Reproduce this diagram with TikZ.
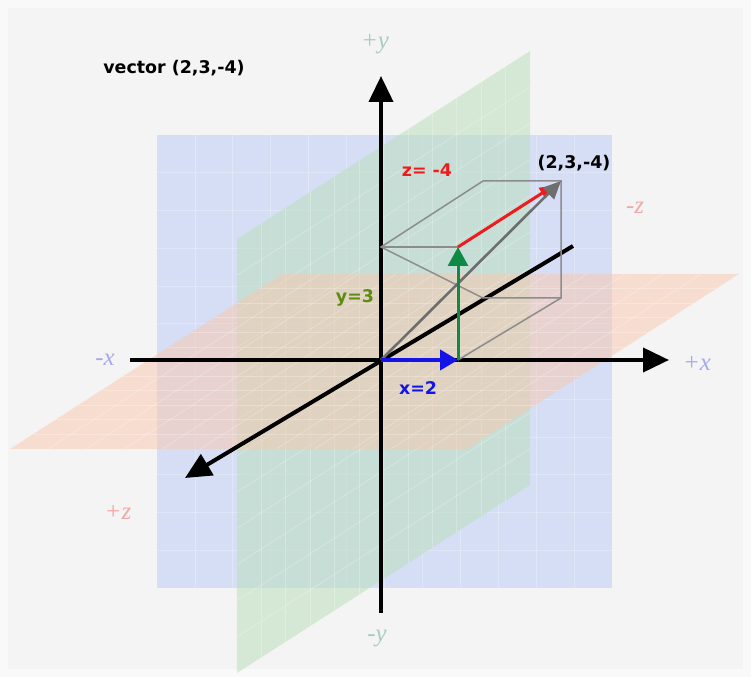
\documentclass[tikz,border=0pt]{standalone}
\usepackage{fontspec}
\usepackage{xcolor}
\usetikzlibrary{arrows.meta,calc}
\newfontfamily\tagfont{DejaVu Sans}
\newfontfamily\axisfont{Liberation Serif}
\definecolor{paper}{HTML}{F4F4F4}
\definecolor{xyplane}{HTML}{D5DEF5}
\definecolor{yzplane}{HTML}{B8DEB8}
\definecolor{xzplane}{HTML}{FAC8AC}
\definecolor{xaxcol}{HTML}{A8A8F0}
\definecolor{yaxcol}{HTML}{A6CCC4}
\definecolor{zaxcol}{HTML}{F2A8A8}
\definecolor{boxline}{HTML}{8C8C8C}
\definecolor{xvec}{HTML}{1414E6}
\definecolor{yvec}{HTML}{0E8A45}
\definecolor{zvec}{HTML}{EE1C1C}
\definecolor{rvec}{HTML}{6E6E6E}
\definecolor{ytext}{HTML}{5E8C12}
\tikzset{
  gridline/.style={white, line width=0.8bp, opacity=0.25},
  axisline/.style={line width=4bp, black},
  axistag/.style={font=\axisfont\itshape\fontsize{25}{27}\selectfont},
  boxedge/.style={line width=1.5bp, boxline},
  vectag/.style={font=\tagfont\bfseries\fontsize{17.5}{19}\selectfont}
}

\begin{document}
\begin{tikzpicture}[x=1bp, y=1bp]
  \useasboundingbox (-381,-317) rectangle (370,360);
  \fill[white!50!paper] (-381,-317) rectangle (370,360);
  \fill[paper] (-373,-309) rectangle (362,352);

  \coordinate (b1) at (-224,-228);
  \coordinate (b2) at (231,-228);
  \coordinate (b3) at (231,225);
  \coordinate (b4) at (-224,225);
  \coordinate (g1) at (-144,-313);
  \coordinate (g2) at (149,-125);
  \coordinate (g3) at (149,309);
  \coordinate (g4) at (-144,121);
  \coordinate (s1) at (-371,-89);
  \coordinate (s2) at (86,-89);
  \coordinate (s3) at (358,86);
  \coordinate (s4) at (-99,86);

  \fill[xyplane] (b1) -- (b2) -- (b3) -- (b4) -- cycle;
  \foreach \t in {1,...,11} {
    \draw[gridline] ($(b1)!\t/12!(b2)$) -- ($(b4)!\t/12!(b3)$);
    \draw[gridline] ($(b1)!\t/12!(b4)$) -- ($(b2)!\t/12!(b3)$);
  }
  \fill[yzplane, opacity=0.5] (g1) -- (g2) -- (g3) -- (g4) -- cycle;
  \foreach \t in {1,...,11} {
    \draw[gridline] ($(g1)!\t/12!(g2)$) -- ($(g4)!\t/12!(g3)$);
    \draw[gridline] ($(g1)!\t/12!(g4)$) -- ($(g2)!\t/12!(g3)$);
  }
  \fill[xzplane, opacity=0.5] (s1) -- (s2) -- (s3) -- (s4) -- cycle;
  \foreach \t in {1,...,11} {
    \draw[gridline] ($(s1)!\t/12!(s2)$) -- ($(s4)!\t/12!(s3)$);
    \draw[gridline] ($(s1)!\t/12!(s4)$) -- ($(s2)!\t/12!(s3)$);
  }

  \coordinate (O) at (0,0);
  \coordinate (xneg) at (-251,0);
  \coordinate (xpos) at (288,0);
  \coordinate (yneg) at (0,-253);
  \coordinate (ypos) at (0,284);
  \coordinate (zneg) at (192,114);
  \coordinate (zpos) at (-196,-118);

  \draw[axisline, -{Triangle[length=26bp,width=24bp]}] (xneg) -- (xpos);
  \draw[axisline, -{Triangle[length=26bp,width=24bp]}] (yneg) -- (ypos);
  \draw[axisline, -{Triangle[length=26bp,width=24bp]}] (zneg) -- (zpos);

  \coordinate (A) at (0,113);
  \coordinate (B) at (77,113);
  \coordinate (C) at (102,179);
  \coordinate (D) at (180,179);
  \coordinate (E) at (180,62);
  \coordinate (F) at (102,62);
  \coordinate (G) at (77,0);

  \draw[boxedge] (A) -- (B);
  \draw[boxedge] (A) -- (C) -- (D) -- (E) -- (F) -- cycle;
  \draw[boxedge] (E) -- (G);

  \draw[line width=3bp, zvec, -{Triangle[length=14bp,width=12bp]}] (B) -- ($(B)!0.93!(D)$);
  \draw[line width=2.6bp, rvec, -{Triangle[length=18bp,width=16bp]}] (O) -- (D);
  \draw[line width=4bp, xvec, -{Triangle[length=18bp,width=20bp]}] (O) -- (G);
  \draw[line width=3bp, yvec, -{Triangle[length=19bp,width=20bp]}] (G) -- (B);

  \node[vectag] (title) at (-207,292) {vector (2,3,-4)};
  \node[vectag] (tiptag) at (193,197) {(2,3,-4)};
  \node[vectag, text=zvec] (ztag) at (46,190) {z= -4};
  \node[vectag, text=ytext] (ytag) at (-26,62) {y=3};
  \node[vectag, text=xvec] (xtag) at (37,-28) {x=2};

  \node[axistag, text=yaxcol] (yplus) at (-6,316) {+y};
  \node[axistag, text=yaxcol] (yminus) at (-4,-278) {-y};
  \node[axistag, text=xaxcol] (xminus) at (-276,0) {-x};
  \node[axistag, text=xaxcol] (xplus) at (316,-3) {+x};
  \node[axistag, text=zaxcol] (zminus) at (254,152) {-z};
  \node[axistag, text=zaxcol] (zplus) at (-263,-152) {+z};
\end{tikzpicture}
\end{document}
